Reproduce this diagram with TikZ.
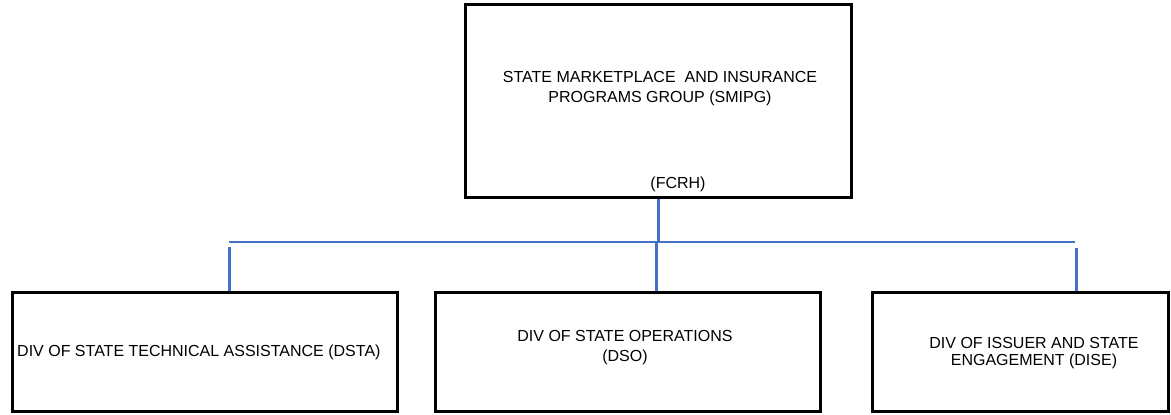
\documentclass[tikz,border=0pt]{standalone}
\usepackage{fontspec}
\setmainfont{Liberation Sans}
\definecolor{conn}{HTML}{4472C4}
\begin{document}
\begin{tikzpicture}[x=1pt,y=1pt,
  box/.style={draw=black,line width=3pt,inner sep=0pt},
  lbl/.style={font=\fontsize{16}{20}\selectfont,align=center,inner sep=0pt},
  thin/.style={draw=conn,line width=1.5pt},
  thick/.style={draw=conn,line width=3pt}]
\useasboundingbox (0,0) rectangle (1171,415);
% boxes
\node[box,minimum width=386pt,minimum height=193pt] (smipg) at (658,313.5) {};
\node[box,minimum width=385pt,minimum height=119pt] (dsta) at (204.5,62.5) {};
\node[box,minimum width=385pt,minimum height=119pt] (dso) at (627.5,62.5) {};
\node[box,minimum width=296pt,minimum height=119pt] (dise) at (1020,62.5) {};
% texts
\node[lbl] (t1) at (660,326) {STATE MARKETPLACE\ \ AND INSURANCE\\PROGRAMS GROUP (SMIPG)};
\node[lbl] (t2) at (678,231) {(FCRH)};
\node[lbl,anchor=west] (t3) at (17,63) {DIV OF STATE TECHNICAL ASSISTANCE (DSTA)};
\node[lbl] (t4) at (625,67.5) {DIV OF STATE OPERATIONS\\(DSO)};
\node[lbl] (t5) at (1034,62) {DIV OF ISSUER AND STATE\\[-3pt]ENGAGEMENT (DISE)};
% connectors
\coordinate (hl) at (229,173);
\coordinate (hr) at (1075,173);
\coordinate (dl) at (229,168);
\coordinate (dm) at (656,173);
\coordinate (dr) at (1076,167);
\draw[thick] (smipg.south) -- (smipg.south |- hl);
\draw[thin] (hl) -- (hr);
\draw[thick] (dl) -- (dl |- dsta.north);
\draw[thick] (dm) -- (dm |- dso.north);
\draw[thick] (dr) -- (dr |- dise.north);
\end{tikzpicture}
\end{document}
